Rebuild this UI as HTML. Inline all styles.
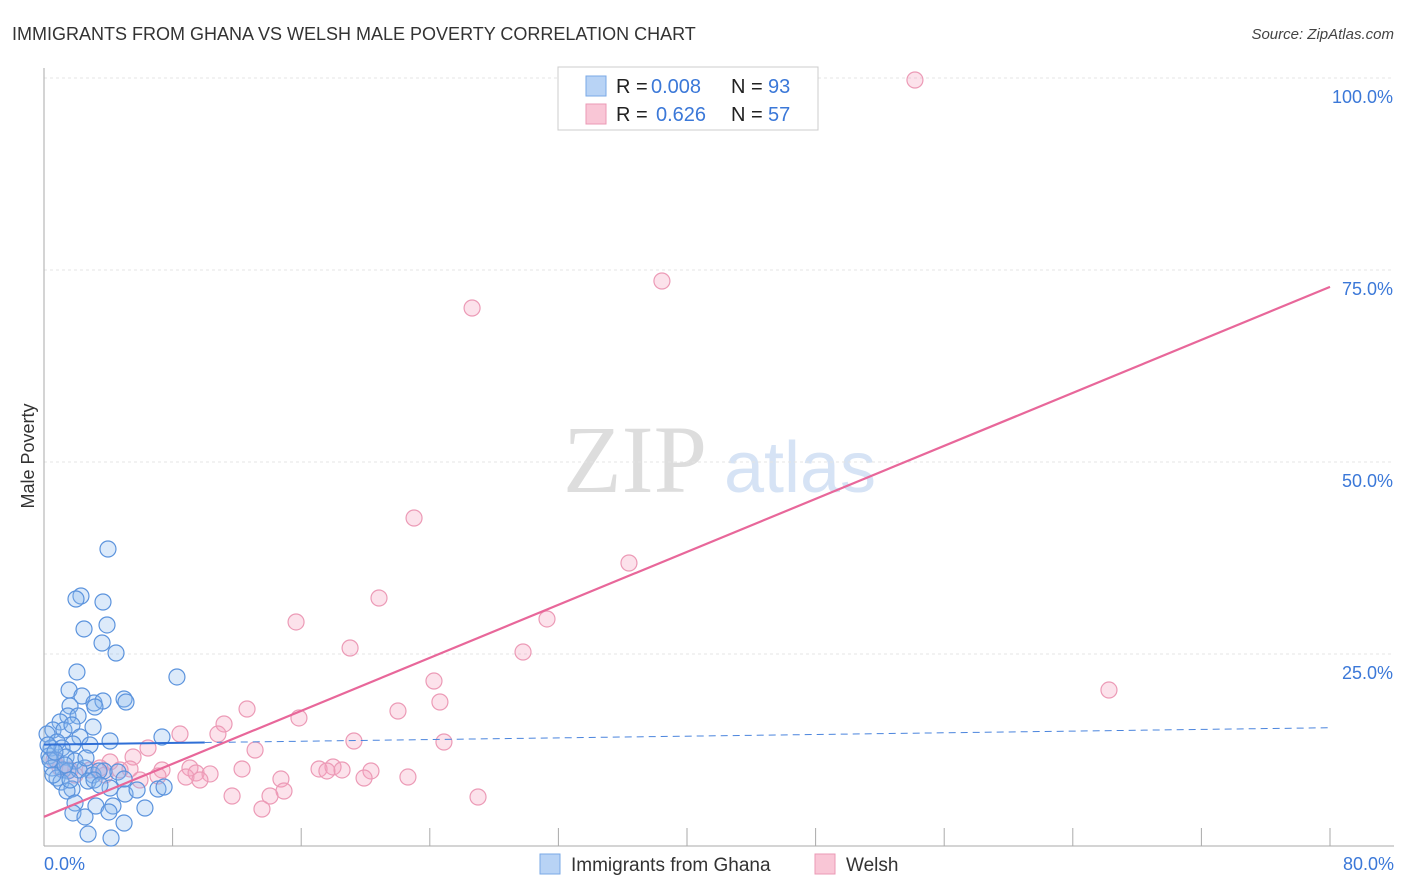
<!DOCTYPE html>
<html><head><meta charset="utf-8"><style>
body{margin:0;background:#fff;font-family:"Liberation Sans",sans-serif;}
#wrap{position:relative;width:1406px;height:892px;overflow:hidden}
</style></head><body>
<div id="wrap">
<svg id="chart" width="1406" height="892" xmlns="http://www.w3.org/2000/svg">
<text x="12" y="40" font-size="18" fill="#333">IMMIGRANTS FROM GHANA VS WELSH MALE POVERTY CORRELATION CHART</text>
<text x="1394" y="39" font-size="15" fill="#444" font-style="italic" text-anchor="end">Source: ZipAtlas.com</text>
<text x="34" y="456" font-size="18" fill="#333" transform="rotate(-90 34 456)" text-anchor="middle">Male Poverty</text>
<text x="635" y="492" font-size="96" fill="#ddd" font-family="Liberation Serif" text-anchor="middle">ZIP</text>
<text x="800" y="492" font-size="72" fill="#d6e3f5" text-anchor="middle">atlas</text>
<g id="grid"></g><g id="pts"></g><g id="lines"></g>
<rect x="558" y="67" width="260" height="63" fill="#fff" stroke="#ccc"/>
<rect x="586" y="76" width="20" height="20" fill="#b8d3f5" stroke="#7aa8e6"/>
<rect x="586" y="104" width="20" height="20" fill="#f9c6d6" stroke="#eb99b5"/>
<g font-size="20">
<text x="616" y="93" fill="#222">R =</text><text x="651" y="93" fill="#3b78d8">0.008</text>
<text x="731" y="93" fill="#222">N =</text><text x="768" y="93" fill="#3b78d8">93</text>
<text x="616" y="121" fill="#222">R =</text><text x="656" y="121" fill="#3b78d8">0.626</text>
<text x="731" y="121" fill="#222">N =</text><text x="768" y="121" fill="#3b78d8">57</text>
</g>
<rect x="540" y="854" width="20" height="20" fill="#b8d3f5" stroke="#7aa8e6"/>
<text x="571" y="871" font-size="19" fill="#333">Immigrants from Ghana</text>
<rect x="815" y="854" width="20" height="20" fill="#f9c6d6" stroke="#eb99b5"/>
<text x="846" y="871" font-size="19" fill="#333">Welsh</text>
</svg></div>
<script>
const xTicks=[0,8,16,24,32,40,48,56,64,72,80];
const yTicks=[25,50,75,100];
const yTickLabels=["25.0%","50.0%","75.0%","100.0%"];
const ghanaPx=[[108,549],[81,596],[76,599],[103,602],[84,629],[107,625],[102,643],[116,653],[77,672],[177,677],[69,690],[82,696],[94,703],[103,701],[124,699],[126,702],[95,707],[70,706],[68,716],[60,722],[78,716],[93,727],[53,730],[64,730],[72,725],[80,737],[47,734],[57,742],[73,744],[90,745],[110,741],[162,737],[51,748],[62,748],[49,756],[56,760],[66,757],[75,761],[85,768],[52,768],[63,770],[68,771],[79,770],[93,775],[104,771],[118,772],[99,771],[57,778],[88,781],[94,780],[61,782],[124,779],[72,789],[67,791],[110,788],[125,794],[137,790],[158,789],[164,787],[75,803],[96,806],[113,806],[145,808],[73,813],[85,817],[109,812],[124,823],[88,834],[111,838],[50,760],[48,745],[55,752],[65,765],[100,785],[86,758],[53,775],[70,780]];
const welshPx=[[915,80],[662,281],[472,308],[414,518],[629,563],[379,598],[296,622],[547,619],[350,648],[523,652],[1109,690],[434,681],[440,702],[398,711],[247,709],[299,718],[224,724],[180,734],[218,734],[148,748],[354,741],[444,742],[255,750],[133,757],[190,768],[242,769],[319,769],[333,767],[342,770],[371,771],[327,771],[408,777],[162,770],[158,776],[196,773],[210,774],[186,777],[200,780],[281,779],[364,778],[284,791],[232,796],[270,796],[262,809],[478,797],[120,770],[110,762],[100,768],[90,770],[70,770],[60,768],[54,760],[105,775],[130,769],[140,780],[75,775]];
const ghanaX=ghanaPx.map(p=>+((p[0]-44)/16.075).toFixed(2)), ghanaY=ghanaPx.map(p=>+((846-p[1])/7.68).toFixed(2));
const welshX=welshPx.map(p=>+((p[0]-44)/16.075).toFixed(2)), welshY=welshPx.map(p=>+((846-p[1])/7.68).toFixed(2));
const ghanaTrend=[13.2,15.4], welshTrend=[3.8,72.8];
const X=v=>44+v*16.075, Y=v=>846-v*7.68;
const NS="http://www.w3.org/2000/svg";
function mk(p,t,a){const e=document.createElementNS(NS,t);for(const k in a)e.setAttribute(k,a[k]);p.appendChild(e);return e;}
const g=document.getElementById('grid');
yTicks.forEach((t,i)=>{
 const l=mk(g,'line',{x1:44,x2:1394,y1:Y(t),y2:Y(t),stroke:'#e4e4e4','stroke-dasharray':'3,3'});
 
 
 const tx=mk(g,'text',{x:1393,y:Y(t)+25,'font-size':18,fill:'#3b78d8','text-anchor':'end'});tx.textContent=yTickLabels[i];
 
 
});
const ax=mk(g,'line',{x1:44,x2:44,y1:68,y2:846,stroke:'#aaa'});


const bx=mk(g,'line',{x1:44,x2:1394,y1:846,y2:846,stroke:'#aaa'});


xTicks.forEach(t=>{const l=mk(g,'line',{x1:X(t),x2:X(t),y1:828,y2:846,stroke:'#aaa'});
 
 });
[[0,'0.0%','start',44],[80,'80.0%','end',1394]].forEach(a=>{const t=mk(g,'text',{x:a[3],y:870,'font-size':18,fill:'#3b78d8','text-anchor':a[2]});t.textContent=a[1];
 
 });
const P=document.getElementById('pts');
welshX.forEach((x,i)=>{const c=mk(P,'circle',{cx:X(x),cy:Y(welshY[i]),r:8,fill:'rgba(245,160,190,0.3)',stroke:'#ec9ab6','stroke-width':1.2});
 
 });
ghanaX.forEach((x,i)=>{const c=mk(P,'circle',{cx:X(x),cy:Y(ghanaY[i]),r:8,fill:'rgba(140,185,240,0.3)',stroke:'#5b93dd','stroke-width':1.2});
 
 });
const L=document.getElementById('lines');
const gy=x=>ghanaTrend[0]+(ghanaTrend[1]-ghanaTrend[0])*x/80;
let l1=mk(L,'line',{x1:X(0),y1:Y(gy(0)),x2:X(10),y2:Y(gy(10)),stroke:'#2f6fd6','stroke-width':2});


let l2=mk(L,'line',{x1:X(10),y1:Y(gy(10)),x2:X(80),y2:Y(gy(80)),stroke:'#4a84dd','stroke-width':1,'stroke-dasharray':'7,5'});


let l3=mk(L,'line',{x1:X(0),y1:Y(welshTrend[0]),x2:X(80),y2:Y(welshTrend[1]),stroke:'#e8679a','stroke-width':2.2});


</script></body></html>
